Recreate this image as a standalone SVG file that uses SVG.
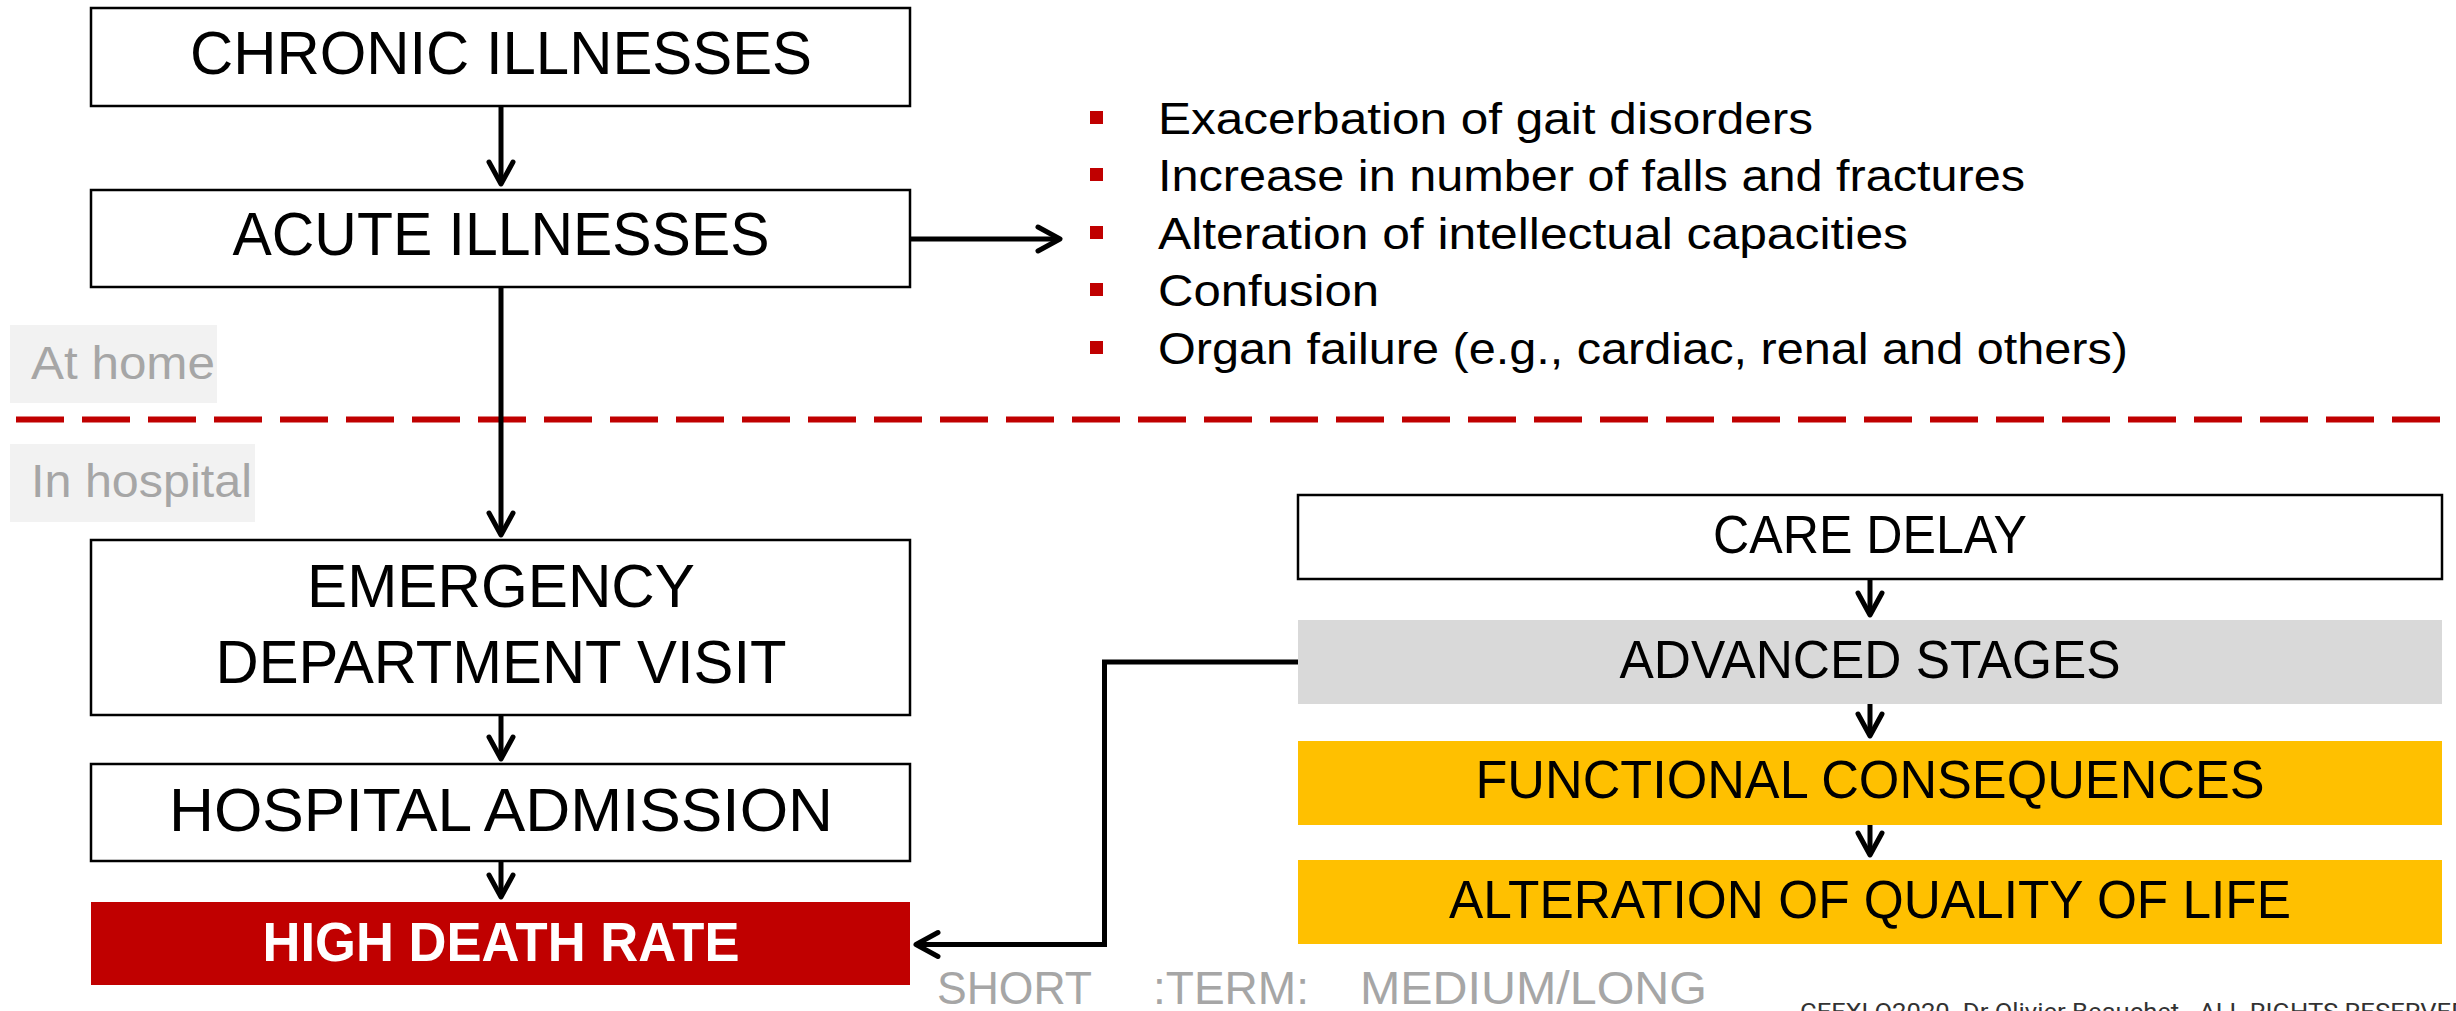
<svg xmlns="http://www.w3.org/2000/svg" width="2456" height="1011" viewBox="0 0 2456 1011">
<defs>
<style>
.box{fill:#fff;stroke:#000;stroke-width:2.5}
.lbl{font-family:"Liberation Sans","DejaVu Sans",sans-serif;font-size:62px;fill:#000;text-anchor:middle}
.rl{font-family:"Liberation Sans","DejaVu Sans",sans-serif;font-size:54px;fill:#000;text-anchor:middle}
.li{font-family:"Liberation Sans","DejaVu Sans",sans-serif;font-size:45px;fill:#000}
.gr{font-family:"Liberation Sans","DejaVu Sans",sans-serif;font-size:46px;fill:#A6A6A6}
.bul{fill:#C00000}
.con{fill:none;stroke:#000;stroke-width:5;marker-end:url(#ah)}
</style>
<marker id="ah" markerUnits="userSpaceOnUse" viewBox="-30 -16 36 32" markerWidth="36" markerHeight="32" refX="0" refY="0" orient="auto">
<path d="M-22,-12 L0,0 L-22,12" fill="none" stroke="#000" stroke-width="5" stroke-linecap="round" stroke-linejoin="round"/>
</marker>
</defs>
<rect width="2456" height="1011" fill="#fff"/>

<g id="zone-home">
<rect x="10" y="325" width="207" height="78" fill="#F2F2F2"/>
<text class="gr" x="31" y="379" textLength="184" lengthAdjust="spacingAndGlyphs">At home</text>
</g>
<g id="divider">
<path d="M16,419.5 L2440,419.5" stroke="#C00000" stroke-width="6" stroke-dasharray="48 18" fill="none"/>
</g>
<g id="zone-hospital">
<rect x="10" y="444" width="245" height="78" fill="#F2F2F2"/>
<text class="gr" x="31" y="497" textLength="221" lengthAdjust="spacingAndGlyphs">In hospital</text>
</g>

<g id="chronic">
<rect class="box" x="91" y="8" width="819" height="98"/>
<text class="lbl" x="501" y="74" textLength="622" lengthAdjust="spacingAndGlyphs">CHRONIC ILLNESSES</text>
</g>
<g id="acute">
<rect class="box" x="91" y="190" width="819" height="97"/>
<text class="lbl" x="501" y="255" textLength="537" lengthAdjust="spacingAndGlyphs">ACUTE ILLNESSES</text>
</g>
<g id="effects">
<rect class="bul" x="1090" y="111" width="13" height="13"/>
<text class="li" x="1158" y="134" textLength="655" lengthAdjust="spacingAndGlyphs">Exacerbation of gait disorders</text>
<rect class="bul" x="1090" y="168" width="13" height="13"/>
<text class="li" x="1158" y="191" textLength="867" lengthAdjust="spacingAndGlyphs">Increase in number of falls and fractures</text>
<rect class="bul" x="1090" y="226" width="13" height="13"/>
<text class="li" x="1158" y="249" textLength="750" lengthAdjust="spacingAndGlyphs">Alteration of intellectual capacities</text>
<rect class="bul" x="1090" y="283" width="13" height="13"/>
<text class="li" x="1158" y="306" textLength="221" lengthAdjust="spacingAndGlyphs">Confusion</text>
<rect class="bul" x="1090" y="341" width="13" height="13"/>
<text class="li" x="1158" y="364" textLength="970" lengthAdjust="spacingAndGlyphs">Organ failure (e.g., cardiac, renal and others)</text>
</g>
<g id="emergency">
<rect class="box" x="91" y="540" width="819" height="175"/>
<text class="lbl" x="501" y="607" textLength="388" lengthAdjust="spacingAndGlyphs">EMERGENCY</text>
<text class="lbl" x="501" y="683" textLength="571" lengthAdjust="spacingAndGlyphs">DEPARTMENT VISIT</text>
</g>
<g id="admission">
<rect class="box" x="91" y="764" width="819" height="97"/>
<text class="lbl" x="501" y="831" textLength="664" lengthAdjust="spacingAndGlyphs">HOSPITAL ADMISSION</text>
</g>
<g id="death">
<rect x="91" y="902" width="819" height="83" fill="#C00000"/>
<text x="501" y="961" font-family="'Liberation Sans','DejaVu Sans',sans-serif" font-weight="bold" font-size="56" fill="#fff" text-anchor="middle" textLength="477" lengthAdjust="spacingAndGlyphs">HIGH DEATH RATE</text>
</g>

<g id="care-delay">
<rect class="box" x="1298" y="495" width="1144" height="84"/>
<text class="rl" x="1870" y="553" textLength="314" lengthAdjust="spacingAndGlyphs">CARE DELAY</text>
</g>
<g id="advanced">
<rect x="1298" y="620" width="1144" height="84" fill="#D9D9D9"/>
<text class="rl" x="1870" y="678" textLength="501" lengthAdjust="spacingAndGlyphs">ADVANCED STAGES</text>
</g>
<g id="functional">
<rect x="1298" y="741" width="1144" height="84" fill="#FFC000"/>
<text class="rl" x="1870" y="798" textLength="789" lengthAdjust="spacingAndGlyphs">FUNCTIONAL CONSEQUENCES</text>
</g>
<g id="quality">
<rect x="1298" y="860" width="1144" height="84" fill="#FFC000"/>
<text class="rl" x="1870" y="918" textLength="842" lengthAdjust="spacingAndGlyphs">ALTERATION OF QUALITY OF LIFE</text>
</g>

<g id="term-labels">
<text class="gr" x="937" y="1004" font-size="47" textLength="155" lengthAdjust="spacingAndGlyphs">SHORT</text>
<text class="gr" x="1153" y="1004" font-size="47" textLength="156" lengthAdjust="spacingAndGlyphs">:TERM:</text>
<text class="gr" x="1360" y="1004" font-size="47" textLength="347" lengthAdjust="spacingAndGlyphs">MEDIUM/LONG</text>
</g>
<g id="footer">
<text x="1800" y="1020" font-family="Roboto,'Liberation Sans',sans-serif" font-size="23" fill="#333" textLength="668" lengthAdjust="spacingAndGlyphs">CEFXLO2020. Dr Olivier Beauchet - ALL RIGHTS RESERVED</text>
</g>

<g id="connectors">
<path class="con" d="M501,107 L501,184"/>
<path class="con" d="M910,239 L1060,239"/>
<path class="con" d="M501,288 L501,535"/>
<path class="con" d="M501,716 L501,759"/>
<path class="con" d="M501,862 L501,897"/>
<path class="con" d="M1298,662 L1104.5,662 L1104.5,944.5 L916,944.5"/>
<path class="con" d="M1870,580 L1870,615"/>
<path class="con" d="M1870,704 L1870,736"/>
<path class="con" d="M1870,825 L1870,855"/>
</g>
</svg>
